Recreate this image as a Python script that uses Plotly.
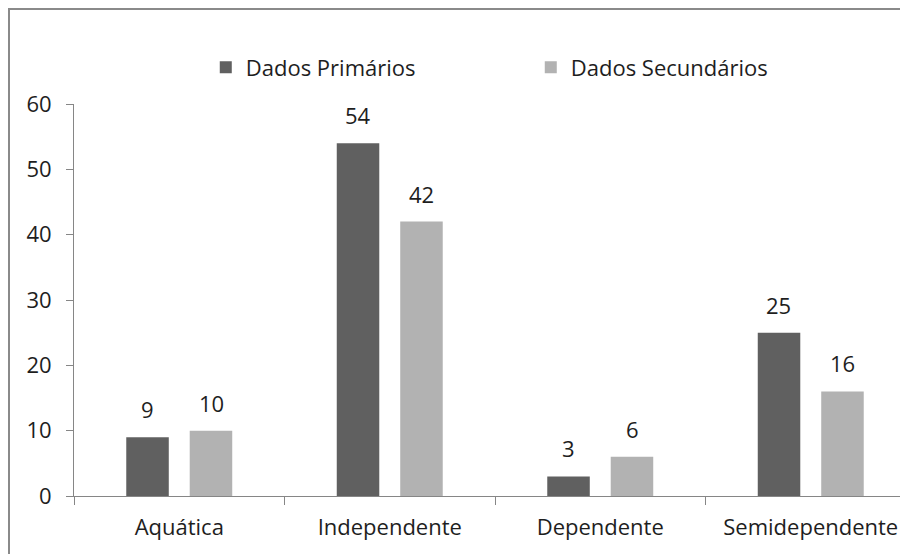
import plotly.graph_objects as go

categories = ["Aquática", "Independente", "Dependente", "Semidependente"]
primarios = [9, 54, 3, 25]
secundarios = [10, 42, 6, 16]
series_names = ["Dados Primários", "Dados Secundários"]
y_ticks = [0, 10, 20, 30, 40, 50, 60]

DARK = "#606060"
LIGHT = "#b2b2b2"
AXIS = "#868686"
TXT = "#1e1e1e"
FONT = "Open Sans"
FS = 22

fig = go.Figure()
fig.add_trace(go.Bar(x=categories, y=primarios, name=series_names[0],
                     marker=dict(color=DARK, line=dict(width=0))))
fig.add_trace(go.Bar(x=categories, y=secundarios, name=series_names[1],
                     marker=dict(color=LIGHT, line=dict(width=0))))

annotations = []
for vals, shift in ((primarios, -32), (secundarios, 32)):
    for c, v in zip(categories, vals):
        annotations.append(dict(x=c, y=v, xref="x", yref="y", text=str(v),
                                showarrow=False, xshift=shift, yshift=28,
                                yanchor="middle", xanchor="center",
                                font=dict(family=FONT, size=FS, color=TXT)))

fig.update_layout(
    width=908, height=554,
    margin=dict(l=66, r=0, t=96, b=66),
    paper_bgcolor="white", plot_bgcolor="white",
    barmode="group", bargap=0.397, bargroupgap=0.33,
    font=dict(family=FONT, size=FS, color=TXT),
    showlegend=True,
    legend=dict(orientation="h", x=0.1565, xanchor="left", y=1.093, yanchor="middle",
                entrywidth=280, font=dict(family=FONT, size=FS, color=TXT),
                bgcolor="rgba(0,0,0,0)", itemclick=False),
    annotations=annotations,
    shapes=[dict(type="rect", xref="paper", yref="paper",
                 x0=-0.0772, x1=1.2, y0=-0.3, y1=1.2423,
                 line=dict(color="#8a8a8a", width=2), fillcolor="rgba(0,0,0,0)",
                 layer="below")],
    xaxis=dict(type="category", range=[-0.5, 3.5], tickson="boundaries",
               ticks="outside", ticklen=8, tickcolor=AXIS, tickwidth=1,
               showline=True, linecolor=AXIS, linewidth=1, showgrid=False,
               zeroline=False, tickfont=dict(family=FONT, size=FS, color=TXT),
               ticklabelstandoff=12, fixedrange=True),
    yaxis=dict(range=[0, 60], tickvals=y_ticks, ticks="outside", ticklen=7,
               tickcolor=AXIS, tickwidth=1, showline=True, linecolor=AXIS,
               linewidth=1, showgrid=False, zeroline=False,
               tickfont=dict(family=FONT, size=FS, color=TXT),
               ticklabelstandoff=10, fixedrange=True),
)

fig.write_html("out.html")
